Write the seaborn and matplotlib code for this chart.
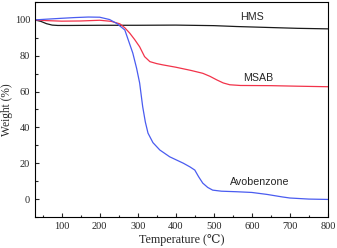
import pandas as pd
import matplotlib.pyplot as plt
import seaborn as sns
from matplotlib.ticker import MultipleLocator

# TGA curves
hms_t = [30, 45, 60, 75, 90, 120, 200, 300, 400, 500, 560, 640, 720, 800]
hms_w = [100, 99.2, 97.9, 97.1, 96.9, 96.9, 97.0, 97.0, 97.1, 96.8, 96.3, 95.8, 95.3, 95.0]

msab_t = [30, 60, 100, 150, 200, 230, 253, 266, 279, 292, 305, 318, 332, 350, 366, 400, 440, 471, 490,
          508, 525, 542, 570, 650, 720, 800]
msab_w = [100, 99.6, 99.3, 99.4, 99.8, 99.2, 97.8, 95.6, 92.6, 89.0, 85.0, 79.5, 76.7, 75.6, 74.9, 73.6,
          71.8, 70.2, 68.5, 66.5, 64.8, 63.8, 63.4, 63.3, 63.0, 62.7]

avo_t = [30, 60, 100, 134, 170, 200, 226, 245, 266, 287, 297, 305, 313, 320, 327, 340, 358, 384, 402,
         420, 437, 450, 460, 471, 484, 497, 520, 560, 600, 640, 680, 700, 750, 800]
avo_w = [100, 100.4, 100.9, 101.3, 101.6, 101.5, 100.2, 98.0, 94.4, 81.5, 73.0, 64.8, 51.6, 43.0, 36.8,
         31.5, 27.4, 23.6, 21.8, 20.0, 18.0, 16.2, 12.5, 8.9, 6.5, 5.0, 4.4, 4.1, 3.7, 2.6, 1.2, 0.6, 0.0, -0.2]

labels = ['HMS', 'MSAB', 'Avobenzone']
label_pos = [(600, 101.5), (616, 67.8), (621, 9.5)]

sns.set_theme(style='ticks')
plt.rcParams['font.family'] = ['Liberation Serif', 'DejaVu Serif']

fig = plt.figure(figsize=(3.37, 2.48), dpi=100)
ax = fig.add_axes([0.104, 0.125, 0.869, 0.867])

sns.lineplot(x=hms_t, y=hms_w, ax=ax, color='#1a1a1a', lw=0.9)
sns.lineplot(x=msab_t, y=msab_w, ax=ax, color='#f2334a', lw=0.9)
sns.lineplot(x=avo_t, y=avo_w, ax=ax, color='#4a5cf0', lw=0.9)

for lab, (tx, ty) in zip(labels, label_pos):
    ax.text(tx, ty, lab, ha='center', va='center', fontsize=7.7,
            family=['Liberation Sans', 'DejaVu Sans'])

ax.set_xlim(30, 800)
ax.set_ylim(-10, 110)
ax.set_xticks([100, 200, 300, 400, 500, 600, 700, 800])
ax.set_yticks([0, 20, 40, 60, 80, 100])
ax.xaxis.set_minor_locator(MultipleLocator(50))
ax.yaxis.set_minor_locator(MultipleLocator(10))
ax.tick_params(which='both', direction='in', labelsize=7.5, width=0.8)
ax.tick_params(which='major', length=3)
ax.tick_params(which='minor', length=1.8)
for s in ax.spines.values():
    s.set_linewidth(0.8)
    s.set_color('black')

ax.set_xlabel('Temperature (℃)', fontsize=8.7, labelpad=2)
ax.set_ylabel('Weight (%)', fontsize=8.3, labelpad=1)

fig.savefig('out.png', dpi=100)
